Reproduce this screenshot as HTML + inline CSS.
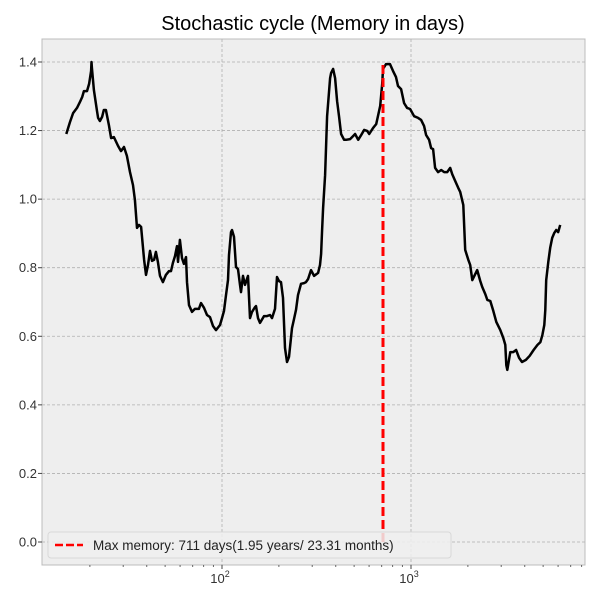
<!DOCTYPE html>
<html><head><meta charset="utf-8">
<style>
body{margin:0;background:#fff;}
svg{display:block;font-family:"Liberation Sans","DejaVu Sans",sans-serif;}
</style></head>
<body>
<svg id="chart" width="600" height="600"></svg>
<script>
const days=[15,15.7,16.3,17.1,17.7,18.2,18.6,19.3,19.8,20.3,20.4,20.5,21.0,21.8,22.1,22.6,23.2,23.7,24.3,25.2,25.9,26.8,28.2,29.2,30.3,31.4,32.6,33.8,34.6,35.5,36.4,37.3,38.7,39.6,40.6,41.6,42.6,43.7,44.7,45.8,47.0,48.7,50.5,52.4,53.7,55.0,56.4,57.8,58.5,59.9,61.4,62.9,64.5,65.3,66.9,69.4,71.9,75.5,77.4,80.3,83.3,86.4,89.6,92.9,97.6,100,102.5,105.0,107.6,108.9,111.6,113.0,115.7,118.6,121.5,124.5,126.0,129.1,132.3,137.3,140.6,144.1,149.5,151.3,155.0,158.8,166.8,173.0,179.5,183.9,190.8,195.5,200.3,205.3,210.3,215.5,220.8,226.3,234.7,240.5,246.4,252.5,261.9,271.7,278.4,285.3,295.9,307.0,322.3,330.2,334.3,338.4,342.6,351.1,359.8,373.2,377.8,387.1,396.7,406.5,416.6,426.8,442.8,453.8,476.4,488.1,506.4,525.3,545.0,565.4,586.5,601.0,630.9,654.5,687.1,704.1,711,737.6,774.4,803.4,833.4,854.0,886.0,919.1,953.5,989.2,1038,1090,1131,1173,1202,1247,1278,1309,1342,1392,1444,1498,1554,1612,1652,1714,1778,1822,1890,1936,2009,2058,2109,2241,2325,2382,2471,2532,2627,2725,2827,2968,3079,3155,3194,3233,3351,3473,3600,3731,3867,4053,4249,4454,4669,4840,4955,5073,5133,5194,5324,5454,5588,5725,5866,6011,6158];
const values=[1.190,1.225,1.251,1.266,1.283,1.298,1.315,1.315,1.336,1.374,1.400,1.383,1.318,1.257,1.237,1.228,1.240,1.260,1.260,1.216,1.178,1.181,1.155,1.140,1.152,1.126,1.079,1.041,0.998,0.916,0.925,0.919,0.823,0.779,0.808,0.849,0.820,0.823,0.846,0.817,0.776,0.758,0.779,0.790,0.790,0.814,0.834,0.863,0.817,0.881,0.828,0.811,0.831,0.758,0.691,0.671,0.680,0.680,0.697,0.683,0.662,0.656,0.630,0.618,0.633,0.653,0.674,0.720,0.764,0.837,0.904,0.910,0.890,0.802,0.796,0.750,0.729,0.776,0.750,0.776,0.653,0.671,0.685,0.688,0.653,0.639,0.659,0.659,0.662,0.653,0.680,0.773,0.761,0.758,0.712,0.566,0.525,0.540,0.624,0.650,0.677,0.720,0.753,0.755,0.758,0.767,0.793,0.776,0.785,0.808,0.840,0.910,0.974,1.070,1.242,1.353,1.368,1.380,1.353,1.286,1.240,1.190,1.173,1.173,1.175,1.181,1.190,1.173,1.187,1.202,1.199,1.190,1.208,1.219,1.272,1.336,1.380,1.394,1.394,1.374,1.356,1.330,1.321,1.280,1.266,1.263,1.242,1.237,1.231,1.213,1.187,1.173,1.149,1.146,1.091,1.079,1.085,1.079,1.079,1.091,1.073,1.053,1.033,1.021,0.983,0.852,0.823,0.808,0.764,0.793,0.761,0.744,0.723,0.706,0.703,0.674,0.642,0.618,0.595,0.575,0.516,0.502,0.554,0.554,0.560,0.537,0.525,0.531,0.543,0.560,0.575,0.583,0.604,0.633,0.677,0.764,0.817,0.858,0.887,0.901,0.910,0.904,0.925,0.939];
const yTicks=[0.0,0.2,0.4,0.6,0.8,1.0,1.2,1.4];
const xTickExps=[2,3];
const maxDay=711;
const maxValue=1.394;

const NS="http://www.w3.org/2000/svg";
const svg=document.getElementById('chart');
const L=42,R=585,T=39,B=565;
function xs(d){return 222+(Math.log10(d)-2)*189;}
function ys(v){return 542-v*342.86;}
function mk(tag,attrs,parent){const e=document.createElementNS(NS,tag);for(const k in attrs)e.setAttribute(k,attrs[k]);(parent||svg).appendChild(e);return e;}

const bg=mk('rect',{x:L,y:T,width:R-L,height:B-T,fill:'#eeeeee',stroke:'#bcbcbc','stroke-width':1});



const title=mk('text',{x:313,y:30,'font-size':20,'text-anchor':'middle',fill:'#000'});
title.textContent='Stochastic cycle (Memory in days)';



yTicks.forEach(v=>{
  const y=ys(v);
  const g=mk('line',{x1:L,x2:R,y1:y,y2:y,stroke:'#b0b0b0','stroke-width':0.8,'stroke-dasharray':'3,2'});
  
  
  mk('line',{x1:L,x2:L-4,y1:y,y2:y,stroke:'#444','stroke-width':1});
  const t=mk('text',{x:L-5,y:y+4.5,'font-size':13,'text-anchor':'end',fill:'#333'});
  t.textContent=v.toFixed(1);
  
  
});
xTickExps.forEach(e=>{
  const x=xs(Math.pow(10,e));
  const g=mk('line',{x1:x,x2:x,y1:T,y2:B,stroke:'#b0b0b0','stroke-width':0.8,'stroke-dasharray':'3,2'});
  
  
  mk('line',{x1:x,x2:x,y1:B,y2:B+4,stroke:'#444','stroke-width':1});
  const t=mk('text',{x:x-2,y:583,'font-size':13,'text-anchor':'middle',fill:'#333'});
  t.textContent='10';
  const s=mk('tspan',{'font-size':9,dy:-6},t);
  s.textContent=String(e);
  
  
});
for(let e=1;e<=3;e++){for(let m=2;m<=9;m++){const x=xs(m*Math.pow(10,e));if(x>L&&x<R)mk('line',{x1:x,x2:x,y1:B,y2:B+2,stroke:'#444','stroke-width':0.8});}}

const pts=days.map((d,i)=>xs(d).toFixed(1)+','+ys(values[i]).toFixed(1)).join(' ');
const line=mk('polyline',{points:pts,fill:'none',stroke:'#000','stroke-width':2.5,'stroke-linejoin':'round'});



const red=mk('line',{x1:xs(maxDay),x2:xs(maxDay),y1:ys(0),y2:ys(maxValue),stroke:'#ff0000','stroke-width':3,'stroke-dasharray':'9,4'});



const lg=mk('g',{});


mk('rect',{x:48,y:532,width:403,height:26,rx:3,fill:'#eeeeee','fill-opacity':0.85,stroke:'#d8d8d8'},lg);
const ls=mk('line',{x1:55,x2:83,y1:545,y2:545,stroke:'#ff0000','stroke-width':2.5,'stroke-dasharray':'8,3'},lg);


const lt=mk('text',{x:93,y:550,'font-size':13.5,fill:'#222'},lg);
lt.textContent='Max memory: 711 days(1.95 years/ 23.31 months)';


</script>
</body></html>
